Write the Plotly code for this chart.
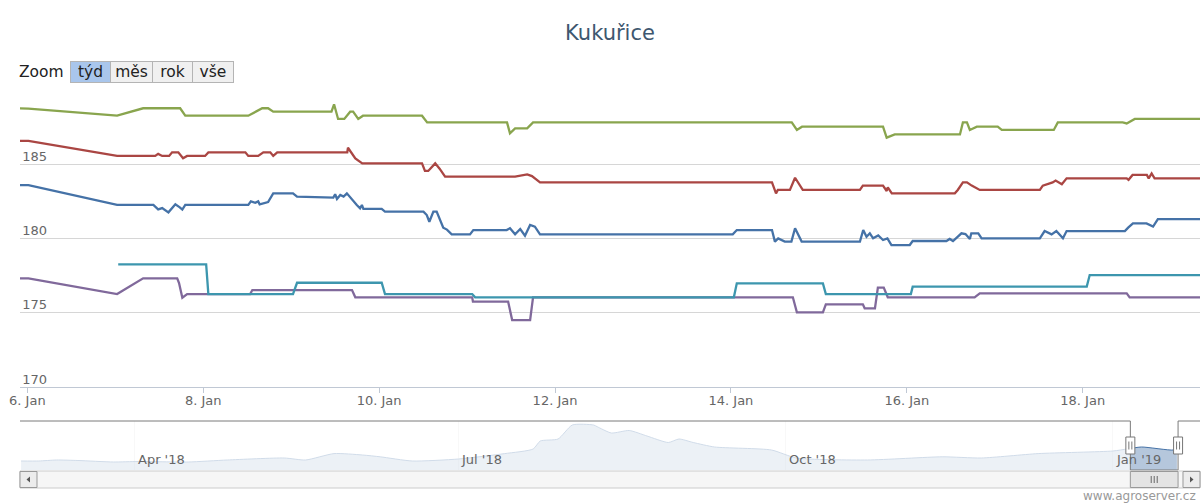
import pandas as pd
import plotly.graph_objects as go

# ---------------- data (hours after 2019-01-06 00:00, price) ----------------
T0 = pd.Timestamp("2019-01-06 00:00")

blue_pts = [(-3.3, 183.6), (0.3, 183.6), (24.5, 182.26), (34.4, 182.26), (35.7, 181.96), (36.8, 182.05),
            (38.5, 181.76), (40.4, 182.3), (41.6, 182.1), (42.3, 181.95), (43.1, 182.26), (60.3, 182.26),
            (61.0, 182.5), (62.2, 182.4), (63.0, 182.5), (63.4, 182.3), (65.7, 182.45), (67.1, 183.04),
            (72.5, 183.04), (73.6, 182.82), (83.5, 182.75), (84.0, 182.98), (84.5, 182.66), (85.4, 182.93),
            (86.3, 182.82), (87.2, 183.04), (89.9, 182.26), (90.8, 182.03), (91.3, 182.26), (91.7, 181.99),
            (96.7, 181.99), (97.6, 181.81), (108.1, 181.81), (109.0, 181.58), (109.7, 181.13), (110.8, 181.81),
            (111.7, 181.81), (113.5, 180.73), (114.5, 180.6), (115.8, 180.28), (120.8, 180.28), (121.7, 180.57),
            (130.8, 180.57), (131.7, 180.69), (133.1, 180.28), (134.5, 180.64), (135.8, 180.19), (137.2, 180.91),
            (138.5, 180.8), (139.9, 180.28), (192.5, 180.28), (193.6, 180.57), (203.2, 180.57), (204.0, 179.79),
            (204.9, 180.01), (206.7, 179.79), (208.5, 179.79), (209.5, 180.69), (211.3, 179.79), (227.2, 179.79),
            (228.1, 180.57), (229.0, 180.12), (229.9, 180.35), (230.8, 180.01), (232.2, 180.2), (233.5, 179.9),
            (234.7, 180.01), (235.8, 179.56), (240.8, 179.56), (241.6, 179.83), (250.8, 179.83), (251.7, 179.97),
            (252.6, 179.83), (254.9, 180.35), (256.0, 180.3), (257.2, 179.97), (257.6, 180.35), (259.5, 180.35),
            (260.4, 180.01), (276.3, 180.01), (277.6, 180.5), (279.5, 180.28), (280.8, 180.5), (282.6, 180.01),
            (283.6, 180.5), (299.5, 180.5), (300.4, 180.73), (301.7, 181.02), (305.4, 181.02), (307.2, 180.8),
            (308.5, 181.31), (321.0, 181.31)]

red_pts = [(-3.3, 186.57), (0.3, 186.57), (24.5, 185.56), (34.9, 185.56), (35.7, 185.7), (36.8, 185.56),
           (38.7, 185.56), (39.5, 185.8), (41.2, 185.8), (42.5, 185.4), (43.6, 185.56), (48.5, 185.56),
           (49.4, 185.8), (59.5, 185.8), (60.3, 185.56), (63.0, 185.56), (64.4, 185.8), (66.3, 185.8),
           (67.1, 185.56), (68.2, 185.8), (87.3, 185.8), (87.5, 186.11), (89.5, 185.4), (91.4, 185.06),
           (107.7, 185.06), (108.5, 184.55), (109.4, 184.55), (111.3, 185.06), (112.5, 184.7), (114.0, 184.16),
           (133.1, 184.16), (134.5, 184.25), (136.4, 184.32), (137.7, 184.2), (139.9, 183.78), (203.2, 183.78),
           (204.3, 183.04), (204.8, 183.27), (208.1, 183.27), (209.5, 184.09), (211.6, 183.27), (227.2, 183.27),
           (228.0, 183.56), (233.5, 183.56), (234.5, 183.2), (234.8, 183.45), (235.9, 183.04), (253.1, 183.04),
           (253.9, 183.27), (255.3, 183.78), (256.4, 183.78), (257.7, 183.56), (259.9, 183.27), (276.3, 183.27),
           (277.1, 183.56), (279.8, 183.78), (280.6, 183.9), (282.3, 183.65), (283.6, 184.05), (300.0, 184.05),
           (300.5, 183.95), (301.6, 184.28), (305.5, 184.28), (306.0, 184.05), (306.8, 184.38), (307.6, 184.05),
           (321.0, 184.05)]

green_pts = [(-3.3, 188.77), (0.3, 188.75), (24.5, 188.27), (31.6, 188.77), (41.7, 188.77), (43.1, 188.27),
             (60.3, 188.27), (62.2, 188.5), (64.1, 188.77), (65.7, 188.77), (67.1, 188.54), (83.0, 188.54),
             (83.7, 189.04), (84.8, 188.05), (86.5, 188.05), (88.1, 188.54), (88.9, 188.54), (90.3, 188.05),
             (91.6, 188.27), (107.7, 188.27), (109.1, 187.82), (130.9, 187.82), (131.7, 187.08), (133.1, 187.42),
             (136.4, 187.42), (138.0, 187.82), (208.6, 187.82), (210.0, 187.31), (211.4, 187.53), (233.5, 187.53),
             (234.5, 186.79), (236.7, 187.01), (254.5, 187.01), (255.3, 187.82), (256.4, 187.82), (257.2, 187.31),
             (259.1, 187.53), (264.8, 187.53), (265.9, 187.31), (280.1, 187.31), (281.2, 187.82), (298.9, 187.82),
             (300.0, 187.75), (302.2, 188.05), (321.0, 188.05)]

purple_pts = [(-3.3, 177.32), (0.3, 177.32), (24.5, 176.26), (31.6, 177.32), (40.9, 177.32), (41.4, 177.0),
              (42.3, 176.01), (43.6, 176.26), (60.8, 176.26), (61.4, 176.53), (88.6, 176.53), (89.5, 176.04),
              (121.4, 176.04), (121.6, 175.75), (131.2, 175.75), (132.3, 174.51), (137.2, 174.51), (138.0, 176.04),
              (208.9, 176.04), (210.0, 175.03), (217.1, 175.03), (217.9, 175.57), (228.0, 175.57), (228.5, 175.30),
              (231.3, 175.30), (232.1, 176.69), (233.7, 176.69), (234.8, 176.04), (258.5, 176.04), (259.9, 176.31),
              (300.0, 176.31), (300.8, 176.04), (321.0, 176.04)]

teal_pts = [(24.8, 178.26), (48.8, 178.26), (49.4, 176.26), (72.5, 176.26), (73.6, 177.02), (96.7, 177.02),
            (97.6, 176.26), (121.4, 176.26), (122.2, 176.04), (192.8, 176.04), (193.6, 176.98), (217.1, 176.98),
            (217.9, 176.26), (241.1, 176.26), (241.6, 176.76), (289.1, 176.76), (289.9, 177.54), (321.0, 177.54)]

series_colors = ["#4572A7", "#AA4643", "#89A54E", "#80699B", "#3D96AE"]

# navigator (whole-history) series
nav_dates = ["2018-02-28", "2018-03-05", "2018-03-10", "2018-03-16", "2018-03-26", "2018-04-02",
             "2018-04-16", "2018-04-27", "2018-05-13", "2018-05-19", "2018-05-27", "2018-06-04",
             "2018-06-09", "2018-06-18", "2018-07-01", "2018-07-14", "2018-07-22", "2018-07-24",
             "2018-07-29", "2018-08-02", "2018-08-08", "2018-08-09", "2018-08-13", "2018-08-18",
             "2018-08-23", "2018-08-29", "2018-09-01", "2018-09-05", "2018-09-11", "2018-09-27",
             "2018-10-04", "2018-10-24", "2018-11-14", "2018-11-25", "2018-12-11", "2019-01-01",
             "2019-01-05", "2019-01-09", "2019-01-18", "2019-01-19"]
nav_values = [174.0, 174.0, 174.5, 174.25, 173.5, 173.75, 173.5, 174.5, 175.5, 174.5, 177.7, 177.0,
              176.1, 174.0, 175.0, 177.7, 180.0, 184.0, 185.0, 192.0, 192.0, 191.15, 188.0, 189.25,
              186.5, 183.25, 185.0, 183.25, 181.0, 179.5, 175.5, 174.5, 176.1, 175.5, 177.7, 179.0,
              180.0, 181.0, 179.5, 180.5]

x_tick_vals = ["2019-01-06", "2019-01-08", "2019-01-10", "2019-01-12", "2019-01-14", "2019-01-16", "2019-01-18"]
x_tick_text = ["6. Jan", "8. Jan", "10. Jan", "12. Jan", "14. Jan", "16. Jan", "18. Jan"]
y_tick_vals = [170, 175, 180, 185, 190]
y_tick_text = ["170", "175", "180", "185", ""]
nav_tick_vals = ["2018-04-01", "2018-07-01", "2018-10-01", "2019-01-01"]
nav_tick_text = ["Apr '18", "Jul '18", "Oct '18", "Jan '19"]
zoom_buttons = ["týd", "měs", "rok", "vše"]

SEL0, SEL1 = "2019-01-05 22:00", "2019-01-19 08:00"
NAV_RANGE = ["2018-02-27 17:00", "2019-01-25 12:00"]

# ---------------- geometry ----------------
W, H = 1202, 504
ML, MR, MT, MB = 20, 2, 90, 16
PW, PH = W - ML - MR, H - MT - MB


def px(x):
    return (x - ML) / PW


def py(y):
    return (H - MB - y) / PH


FONT = "DejaVu Sans"

fig = go.Figure()


def to_xy(pts):
    hrs, vals = zip(*pts)
    return [T0 + pd.Timedelta(hours=h) for h in hrs], list(vals)


for pts, col in zip([blue_pts, red_pts, green_pts, purple_pts, teal_pts], series_colors):
    xs, ys = to_xy(pts)
    fig.add_trace(go.Scatter(x=xs, y=ys, mode="lines", line=dict(color=col, width=2.3),
                             showlegend=False, xaxis="x", yaxis="y"))

fig.add_trace(go.Scatter(x=pd.to_datetime(nav_dates), y=nav_values, mode="lines",
                         line=dict(color="#4572A7", width=1, shape="spline", smoothing=0.6),
                         fill="tozeroy", fillcolor="rgba(69,114,167,0.4)",
                         showlegend=False, xaxis="x2", yaxis="y2"))

shapes = []
# navigator masks outside selection
for a, b in [(NAV_RANGE[0], SEL0), (SEL1, NAV_RANGE[1])]:
    shapes.append(dict(type="rect", xref="x2", yref="y2 domain", x0=a, x1=b, y0=0, y1=1,
                       fillcolor="rgba(255,255,255,0.75)", line=dict(width=0), layer="above"))
# outline
oc = dict(color="#7a7a7a", width=1)
for (xa, ya, xb, yb) in [(NAV_RANGE[0], 1, SEL0, 1), (SEL0, 1, SEL0, 0), (SEL0, 0, SEL1, 0),
                         (SEL1, 0, SEL1, 1), (SEL1, 1, NAV_RANGE[1], 1)]:
    shapes.append(dict(type="line", xref="x2", yref="y2 domain", x0=xa, x1=xb, y0=ya, y1=yb,
                       line=oc, layer="above"))
# handles
for s in [SEL0, SEL1]:
    shapes.append(dict(type="rect", xref="x2", yref="y2 domain", xsizemode="pixel", xanchor=s,
                       x0=-4.5, x1=4.5, ysizemode="pixel", yanchor=0.5, y0=-8.5, y1=8.5,
                       fillcolor="white", line=dict(color="#777", width=1), layer="above"))
    for dx in (-1.5, 1.5):
        shapes.append(dict(type="line", xref="x2", yref="y2 domain", xsizemode="pixel", xanchor=s,
                           x0=dx, x1=dx, ysizemode="pixel", yanchor=0.5, y0=-4, y1=4,
                           line=dict(color="#777", width=1), layer="above"))

# scrollbar
shapes.append(dict(type="rect", xref="paper", yref="paper", x0=px(20), x1=px(1200), y0=py(488), y1=py(471),
                   fillcolor="#f6f6f6", line=dict(color="#cccccc", width=1), layer="above"))
for a, b in [(20, 37), (1183, 1200)]:
    shapes.append(dict(type="rect", xref="paper", yref="paper", x0=px(a), x1=px(b), y0=py(487.5), y1=py(471.5),
                       fillcolor="#ececec", line=dict(color="#999", width=1), layer="above"))
shapes.append(dict(type="path", xref="paper", yref="paper",
                   path=f"M {px(26.5)},{py(479.5)} L {px(30)},{py(476.5)} L {px(30)},{py(482.5)} Z",
                   fillcolor="#555", line=dict(width=0), layer="above"))
shapes.append(dict(type="path", xref="paper", yref="paper",
                   path=f"M {px(1193.5)},{py(479.5)} L {px(1190)},{py(476.5)} L {px(1190)},{py(482.5)} Z",
                   fillcolor="#555", line=dict(width=0), layer="above"))
shapes.append(dict(type="rect", xref="x2", yref="paper", x0=SEL0, x1=SEL1, y0=py(487.5), y1=py(471.5),
                   fillcolor="#e4e4e4", line=dict(color="#999", width=1), layer="above"))
mid = pd.Timestamp(SEL0) + (pd.Timestamp(SEL1) - pd.Timestamp(SEL0)) / 2
for dx in (-3, 0, 3):
    shapes.append(dict(type="line", xref="x2", yref="paper", xsizemode="pixel", xanchor=mid,
                       x0=dx, x1=dx, y0=py(483), y1=py(476), line=dict(color="#666", width=1), layer="above"))

annotations = []
annotations.append(dict(text="Zoom", xref="paper", yref="paper", x=px(17), y=py(72), xanchor="left",
                        yanchor="middle", showarrow=False, font=dict(family=FONT, size=15.5, color="#222")))
edges = [70, 110, 152, 192, 233]
for i, lab in enumerate(zoom_buttons):
    l, r = edges[i], edges[i + 1]
    annotations.append(dict(text=lab, xref="paper", yref="paper", x=px((l + r) / 2), y=py(72),
                            xanchor="center", yanchor="middle", showarrow=False, width=r - l - 1, height=20,
                            bgcolor="#a9c6ec" if i == 0 else "#f0f0f0", bordercolor="#b4b4b4",
                            borderwidth=1, borderpad=0, font=dict(family=FONT, size=15.5, color="#222")))
for v, t in zip(nav_tick_vals, nav_tick_text):
    annotations.append(dict(text=t, xref="x2", yref="y2 domain", x=v, y=0, xanchor="left", yanchor="bottom",
                            xshift=1, yshift=1, showarrow=False, font=dict(family=FONT, size=13, color="#666")))
annotations.append(dict(text="www.agroserver.cz", xref="paper", yref="paper", x=px(1198), y=py(496),
                        xanchor="right", yanchor="middle", showarrow=False,
                        font=dict(family=FONT, size=12, color="#999")))

fig.update_layout(
    width=W, height=H,
    margin=dict(l=ML, r=MR, t=MT, b=MB, pad=0),
    paper_bgcolor="white", plot_bgcolor="white",
    font=dict(family=FONT, color="#666"),
    title=dict(text="Kukuřice", x=0.5, xref="paper", xanchor="center", y=1 - 33 / H, yref="container",
               yanchor="middle", font=dict(family=FONT, size=21, color="#3E576F")),
    showlegend=False,
    xaxis=dict(type="date", range=[SEL0, SEL1], domain=[0, 1], anchor="y",
               tickvals=x_tick_vals, ticktext=x_tick_text, ticklabeloverflow="allow",
               ticklabelstandoff=-4,
               showgrid=False, showline=True, linecolor="#c0c8d4", linewidth=1,
               ticks="outside", ticklen=5, tickcolor="#c0c8d4",
               tickfont=dict(family=FONT, size=13, color="#666"), zeroline=False),
    yaxis=dict(range=[170, 190], domain=[py(387), 1], anchor="x", tickvals=y_tick_vals, ticktext=y_tick_text,
               ticklabelposition="outside", ticklabelstandoff=-28, ticklabelshift=-8,
               showgrid=True, gridcolor="#d6d6d6", gridwidth=1,
               zeroline=False, showline=False, ticks="",
               tickfont=dict(family=FONT, size=13, color="#666")),
    xaxis2=dict(type="date", range=NAV_RANGE, domain=[0, 1], anchor="y2", tickvals=nav_tick_vals,
                showticklabels=False, showgrid=True, gridcolor="#e4e4e4", ticks="", showline=False,
                zeroline=False),
    yaxis2=dict(range=[169.5, 194], domain=[py(470), py(421)], anchor="x2", visible=False,
                showgrid=False, zeroline=False),
    shapes=shapes,
    annotations=annotations,
)

fig.write_html("out.html", config={"displayModeBar": False},
               post_script="document.body.style.margin='0';document.body.style.overflow='hidden';")
